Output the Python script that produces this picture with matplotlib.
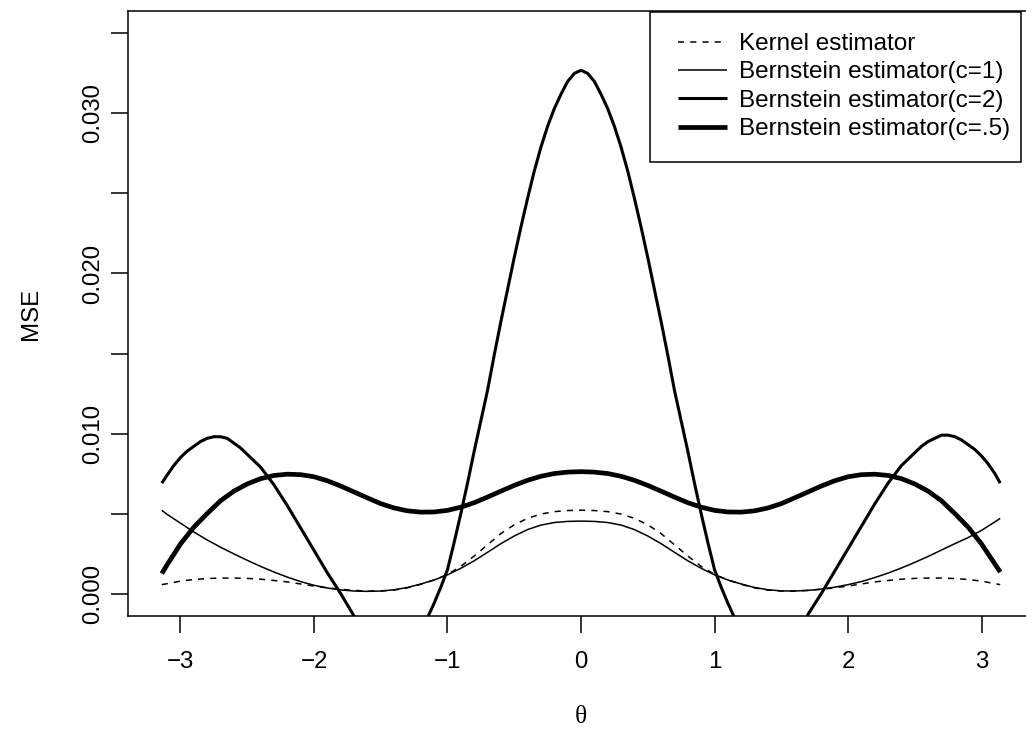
import numpy as np
import matplotlib
matplotlib.use("Agg")
import matplotlib.pyplot as plt
from matplotlib.patches import Rectangle

plt.rcParams["font.family"] = ["Liberation Sans", "DejaVu Sans"]

# values (theta, MSE)
theta = [-3.14, -3.1, -3.0, -2.9, -2.8, -2.7, -2.6, -2.5, -2.4, -2.3, -2.2, -2.1, -2.0, -1.9, -1.8, -1.7,
         -1.6, -1.5, -1.4, -1.3, -1.2, -1.1, -1.0, -0.9, -0.8, -0.7, -0.6, -0.5, -0.4, -0.3, -0.2, -0.1,
         0.0, 0.1, 0.2, 0.3, 0.4, 0.5, 0.6, 0.7, 0.8, 0.9, 1.0, 1.1, 1.2, 1.3, 1.4, 1.5, 1.6, 1.7, 1.8,
         1.9, 2.0, 2.1, 2.2, 2.3, 2.4, 2.5, 2.6, 2.7, 2.8, 2.9, 3.0, 3.1, 3.14]

kernel_y = [0.00056, 0.00062, 0.00078, 0.00088, 0.00094, 0.00097, 0.00097, 0.00095, 0.00090, 0.00082,
            0.00073, 0.00060, 0.00047, 0.00036, 0.00027, 0.00020, 0.00016, 0.00016, 0.00022, 0.00036,
            0.00058, 0.00085, 0.00120, 0.00170, 0.00235, 0.00305, 0.00375, 0.00430, 0.00470, 0.00497,
            0.00512, 0.00519, 0.00521,
            0.00519, 0.00512, 0.00497, 0.00470, 0.00430, 0.00375, 0.00305, 0.00235, 0.00170, 0.00120,
            0.00085, 0.00058, 0.00036, 0.00022, 0.00016, 0.00016, 0.00020, 0.00027, 0.00036, 0.00047,
            0.00060, 0.00073, 0.00082, 0.00090, 0.00095, 0.00097, 0.00097, 0.00094, 0.00088, 0.00078,
            0.00062, 0.00056]

c1_y = [0.00520, 0.00495, 0.00440, 0.00385, 0.00335, 0.00290, 0.00248, 0.00208, 0.00170, 0.00135,
        0.00103, 0.00075, 0.00052, 0.00035, 0.00023, 0.00016, 0.00014, 0.00016, 0.00024, 0.00038,
        0.00060, 0.00085, 0.00117, 0.00158, 0.00205, 0.00258, 0.00312, 0.00360, 0.00400, 0.00428,
        0.00444, 0.00451, 0.00453,
        0.00451, 0.00444, 0.00428, 0.00400, 0.00360, 0.00312, 0.00258, 0.00205, 0.00158, 0.00117,
        0.00085, 0.00060, 0.00038, 0.00024, 0.00017, 0.00016, 0.00020, 0.00028, 0.00040, 0.00056,
        0.00075, 0.00100, 0.00128, 0.00160, 0.00195, 0.00232, 0.00272, 0.00312, 0.00350, 0.00395,
        0.00448, 0.00470]

c05_y = [0.00125, 0.00180, 0.00310, 0.00415, 0.00500, 0.00580, 0.00640, 0.00685, 0.00718, 0.00738,
         0.00746, 0.00743, 0.00730, 0.00705, 0.00672, 0.00635, 0.00598, 0.00562, 0.00535, 0.00517,
         0.00509, 0.00510, 0.00520, 0.00540, 0.00568, 0.00603, 0.00640, 0.00676, 0.00708, 0.00733,
         0.00750, 0.00759, 0.00762,
         0.00759, 0.00750, 0.00733, 0.00708, 0.00676, 0.00640, 0.00603, 0.00568, 0.00540, 0.00520,
         0.00510, 0.00509, 0.00517, 0.00535, 0.00562, 0.00598, 0.00635, 0.00672, 0.00705, 0.00730,
         0.00743, 0.00746, 0.00738, 0.00718, 0.00685, 0.00640, 0.00580, 0.00500, 0.00415, 0.00310,
         0.00185, 0.00135]

# c=2 leaves the plot region below zero; NaN splits the visible pieces
c2_x = [-3.14, -3.1, -3.05, -3.0, -2.95, -2.9, -2.85, -2.8, -2.75, -2.7, -2.65, -2.6, -2.55, -2.5, -2.45,
        -2.4, -2.3, -2.2, -2.1, -2.0, -1.9, -1.8, -1.7, -1.68, np.nan,
        -1.16, -1.144, -1.1, -1.05, -1.0, -0.95, -0.9, -0.85, -0.8, -0.75, -0.7, -0.65, -0.6, -0.55, -0.5,
        -0.45, -0.4, -0.35, -0.3, -0.25, -0.2, -0.15, -0.1, -0.05, 0.0,
        0.05, 0.1, 0.15, 0.2, 0.25, 0.3, 0.35, 0.4, 0.45, 0.5, 0.55, 0.6, 0.65, 0.7, 0.75, 0.8, 0.85, 0.9,
        0.95, 1.0, 1.05, 1.1, 1.144, 1.16, np.nan,
        1.68, 1.7, 1.8, 1.9, 2.0, 2.1, 2.2, 2.3, 2.4, 2.45, 2.5, 2.55, 2.6, 2.65, 2.7, 2.75, 2.8, 2.85,
        2.9, 2.95, 3.0, 3.05, 3.1, 3.14]
c2_y = [0.0069, 0.0074, 0.0080, 0.0085, 0.0089, 0.0092, 0.0095, 0.0097, 0.0098, 0.0098, 0.0097, 0.0094,
        0.0091, 0.0087, 0.0083, 0.0079, 0.0068, 0.0055, 0.0041, 0.0027, 0.0013, 0.0000, -0.0014, -0.0017,
        np.nan,
        -0.0017, -0.0014, -0.0006, 0.0004, 0.0015, 0.0032, 0.0050, 0.0069, 0.0089, 0.0108, 0.0127, 0.0149,
        0.0170, 0.0190, 0.0210, 0.0229, 0.0247, 0.0264, 0.0279, 0.0292, 0.0303, 0.0312, 0.0320, 0.0325,
        0.0327,
        0.0325, 0.0320, 0.0312, 0.0303, 0.0292, 0.0279, 0.0264, 0.0247, 0.0229, 0.0210, 0.0190, 0.0170,
        0.0149, 0.0127, 0.0108, 0.0089, 0.0069, 0.0050, 0.0032, 0.0015, 0.0004, -0.0006, -0.0014, -0.0017,
        np.nan,
        -0.0017, -0.0013, 0.0000, 0.0014, 0.0028, 0.0042, 0.0056, 0.0069, 0.0080, 0.0084, 0.0088, 0.0092,
        0.0095, 0.0097, 0.0099, 0.0099, 0.0098, 0.0096, 0.0093, 0.0090, 0.0086, 0.0081, 0.0075, 0.0069]

labels = ["Kernel estimator", "Bernstein estimator(c=1)", "Bernstein estimator(c=2)", "Bernstein estimator(c=.5)"]

x_ticks = [-3, -2, -1, 0, 1, 2, 3]
y_ticks = [0.000, 0.005, 0.010, 0.015, 0.020, 0.025, 0.030, 0.035]
y_ticklabels = ["0.000", "", "0.010", "", "0.020", "", "0.030", ""]

W, H = 1026, 737
fig = plt.figure(figsize=(W / 100, H / 100), dpi=100)
fig.patch.set_facecolor("white")

# plot region in pixels: x 128..1034 (runs past the right edge), y 11..616
ax = fig.add_axes([128 / W, 1 - 616 / H, 906 / W, 605 / H])
ax.set_xlim(-3.393, 3.393)
ax.set_ylim(-0.0014, 0.0364)

fs = 17.3
lines = []
lines += ax.plot(theta, kernel_y, color="black", lw=1.1, dashes=(4, 4), label=labels[0])
lines += ax.plot(theta, c1_y, color="black", lw=1.1, label=labels[1])
lines += ax.plot(c2_x, c2_y, color="black", lw=2.2, label=labels[2])
lines += ax.plot(theta, c05_y, color="black", lw=3.4, label=labels[3])
for ln in lines:
    ln.set_solid_joinstyle("round")
    ln.set_solid_capstyle("butt")

ax.set_xticks(x_ticks)
ax.set_xticklabels([str(t) if t >= 0 else "\u2212" + str(-t) for t in x_ticks])
ax.set_yticks(y_ticks)
ax.set_yticklabels(y_ticklabels, rotation=90, va="center")
ax.tick_params(axis="both", length=12.2, width=1.1, labelsize=fs, direction="out")
ax.tick_params(axis="x", pad=13)
ax.tick_params(axis="y", pad=5)

for s in ax.spines.values():
    s.set_linewidth(1.1)

ax.set_xlabel("\u03b8", family="Liberation Serif", fontsize=fs + 1, va="center")
ax.xaxis.set_label_coords(0.5, (616 - 717) / 605)
ax.set_ylabel("MSE", fontsize=fs, va="center")
ax.yaxis.set_label_coords((31 - 128) / 906, 0.5)

# legend: entries without frame, then the box drawn around them
leg = ax.legend(handles=lines, loc="upper left", frameon=False, fontsize=17.5,
                bbox_to_anchor=(678 / W, 1 - 33 / H), bbox_transform=fig.transFigure,
                borderpad=0, handlelength=2.0, handletextpad=0.5, labelspacing=0.26,
                borderaxespad=0)
fig.add_artist(Rectangle((650 / W, 1 - 162 / H), 371 / W, 150 / H, transform=fig.transFigure,
                         fill=False, edgecolor="black", linewidth=1.1))

fig.savefig("out.png", dpi=100)
